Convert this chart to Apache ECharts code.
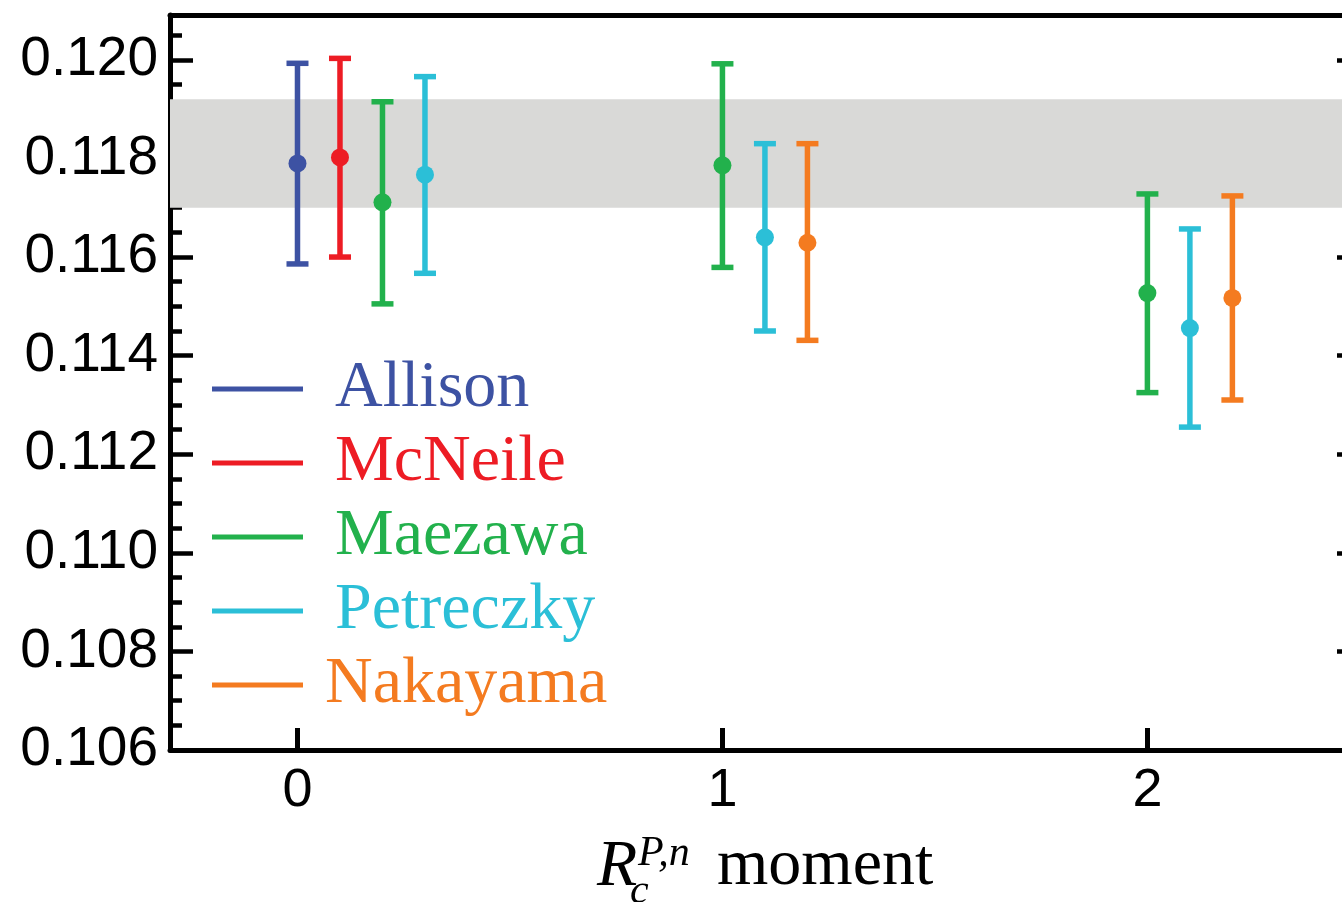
<!DOCTYPE html>
<html>
<head>
<meta charset="utf-8">
<script src="https://cdn.jsdelivr.net/npm/echarts@6/dist/echarts.min.js"></script>
<style>
  html, body { margin: 0; padding: 0; background: #ffffff; }
  #chart { width: 1342px; height: 902px; }
</style>
</head>
<body>
<div id="chart"></div>
<script>
// Determinations of alpha_s from R_c^{P,n} moments.
// Each entry: [moment position, central value, lower end, upper end]
const allison   = [[0.0, 0.11790, 0.11586, 0.11993]];
const mcneile   = [[0.1, 0.11802, 0.11600, 0.12003]];
const maezawa   = [[0.2, 0.11711, 0.11505, 0.11915],
                   [1.0, 0.11786, 0.11579, 0.11992],
                   [2.0, 0.11527, 0.11325, 0.11728]];
const petreczky = [[0.3, 0.11767, 0.11567, 0.11966],
                   [1.1, 0.11640, 0.11450, 0.11830],
                   [2.1, 0.11456, 0.11255, 0.11657]];
const nakayama  = [[1.2, 0.11629, 0.11431, 0.11830],
                   [2.2, 0.11517, 0.11310, 0.11724]];

const seriesNames = ['Allison', 'McNeile', 'Maezawa', 'Petreczky', 'Nakayama'];
const seriesData  = [allison, mcneile, maezawa, petreczky, nakayama];

// Reference band (lower, upper)
const referenceBand = [0.1170, 0.1192];

// Axis ticks
const momentTicks = [0, 1, 2];
const yMin = 0.106, yMax = 0.12091;
const yMajorStep = 0.002, yMinorStep = 0.0005;

const palette = ['#3d52a3', '#ed1c24', '#22b14c', '#2bbfd7', '#f47b20'];

function errorBarItem(color) {
  return function (params, api) {
    const x = api.value(0);
    const pC = api.coord([x, api.value(1)]);
    const pLo = api.coord([x, api.value(2)]);
    const pHi = api.coord([x, api.value(3)]);
    const cap = 11;
    const st = { stroke: color, lineWidth: 5.5 };
    return {
      type: 'group',
      children: [
        { type: 'line', shape: { x1: pLo[0], y1: pLo[1], x2: pHi[0], y2: pHi[1] }, style: st },
        { type: 'line', shape: { x1: pHi[0] - cap, y1: pHi[1], x2: pHi[0] + cap, y2: pHi[1] }, style: st },
        { type: 'line', shape: { x1: pLo[0] - cap, y1: pLo[1], x2: pLo[0] + cap, y2: pLo[1] }, style: st },
        { type: 'circle', shape: { cx: pC[0], cy: pC[1], r: 9 }, style: { fill: color } }
      ]
    };
  };
}

const series = seriesNames.map((name, i) => ({
  name: name,
  type: 'custom',
  renderItem: errorBarItem(palette[i]),
  itemStyle: { color: palette[i] },
  encode: { x: 0, y: [1, 2, 3] },
  data: seriesData[i],
  z: 5
}));

// Shaded reference band
series.unshift({
  name: 'band',
  type: 'line',
  data: [],
  z: 1,
  silent: true,
  markArea: {
    silent: true,
    itemStyle: { color: '#d9d9d7' },
    data: [[{ yAxis: referenceBand[0] }, { yAxis: referenceBand[1] }]]
  }
});

const axisBlack = { color: '#000000', width: 5 };

const option = {
  animation: false,
  backgroundColor: '#ffffff',
  grid: { left: 170, top: 15, width: 1175, height: 735, outerBoundsMode: 'none', containLabel: false },
  legend: {
    orient: 'vertical',
    left: 212,
    top: 356,
    padding: 0,
    itemWidth: 91,
    itemHeight: 5,
    itemGap: 8,
    selectedMode: false,
    textStyle: {
      fontFamily: 'Liberation Serif',
      fontSize: 66,
      lineHeight: 52,
      padding: [0, 0, 14, 27]
    },
    data: seriesNames.map((n, i) => ({
      name: n,
      icon: 'rect',
      textStyle: i === 4
        ? { color: palette[i], padding: [0, 0, 14, 17] }
        : { color: palette[i] }
    }))
  },
  xAxis: [
    {
      type: 'value',
      position: 'bottom',
      min: -0.3,
      max: 2.465,
      axisLine: { onZero: false, lineStyle: axisBlack },
      axisTick: { inside: true, length: 22, customValues: momentTicks, lineStyle: { color: '#000', width: 5 } },
      axisLabel: {
        customValues: momentTicks,
        fontFamily: 'Liberation Sans',
        fontSize: 54,
        color: '#000',
        margin: 14
      },
      splitLine: { show: false }
    },
    {
      type: 'value',
      position: 'top',
      min: -0.3,
      max: 2.465,
      axisLine: { onZero: false, lineStyle: axisBlack },
      axisTick: { show: false },
      axisLabel: { show: false },
      splitLine: { show: false }
    }
  ],
  yAxis: [
    {
      type: 'value',
      position: 'left',
      min: yMin,
      max: yMax,
      interval: yMajorStep,
      axisLine: { onZero: false, lineStyle: axisBlack },
      axisTick: { inside: true, length: 23, lineStyle: { color: '#000', width: 4.5 } },
      axisLabel: {
        fontFamily: 'Liberation Sans',
        fontSize: 55,
        color: '#000',
        margin: 12,
        showMaxLabel: false,
        formatter: v => v.toFixed(3)
      },
      splitLine: { show: false }
    },
    {
      type: 'value',
      position: 'left',
      min: yMin,
      max: yMax,
      interval: yMinorStep,
      axisLine: { show: false, onZero: false },
      axisTick: { inside: true, length: 12, lineStyle: { color: '#000', width: 4.5 } },
      axisLabel: { show: false },
      splitLine: { show: false }
    },
    {
      type: 'value',
      position: 'right',
      min: yMin,
      max: yMax,
      interval: yMajorStep,
      axisLine: { onZero: false, lineStyle: axisBlack },
      axisTick: { inside: true, length: 8, lineStyle: { color: '#000', width: 4.5 } },
      axisLabel: { show: false },
      splitLine: { show: false }
    }
  ],
  graphic: [
    { type: 'text', x: 597, y: 868, z: 10,
      style: { text: 'R', font: 'italic 66px "Liberation Serif"', fill: '#000', verticalAlign: 'middle' } },
    { type: 'text', x: 638, y: 854, z: 10,
      style: { text: 'P,n', font: 'italic 42px "Liberation Serif"', fill: '#000', verticalAlign: 'middle' } },
    { type: 'text', x: 630, y: 892, z: 10,
      style: { text: 'c', font: 'italic 42px "Liberation Serif"', fill: '#000', verticalAlign: 'middle' } },
    { type: 'text', x: 717, y: 867, z: 10,
      style: { text: 'moment', font: '66px "Liberation Serif"', fill: '#000', verticalAlign: 'middle' } }
  ],
  series: series
};

const chart = echarts.init(document.getElementById('chart'), null, { renderer: 'canvas' });
chart.setOption(option);
</script>
</body>
</html>
